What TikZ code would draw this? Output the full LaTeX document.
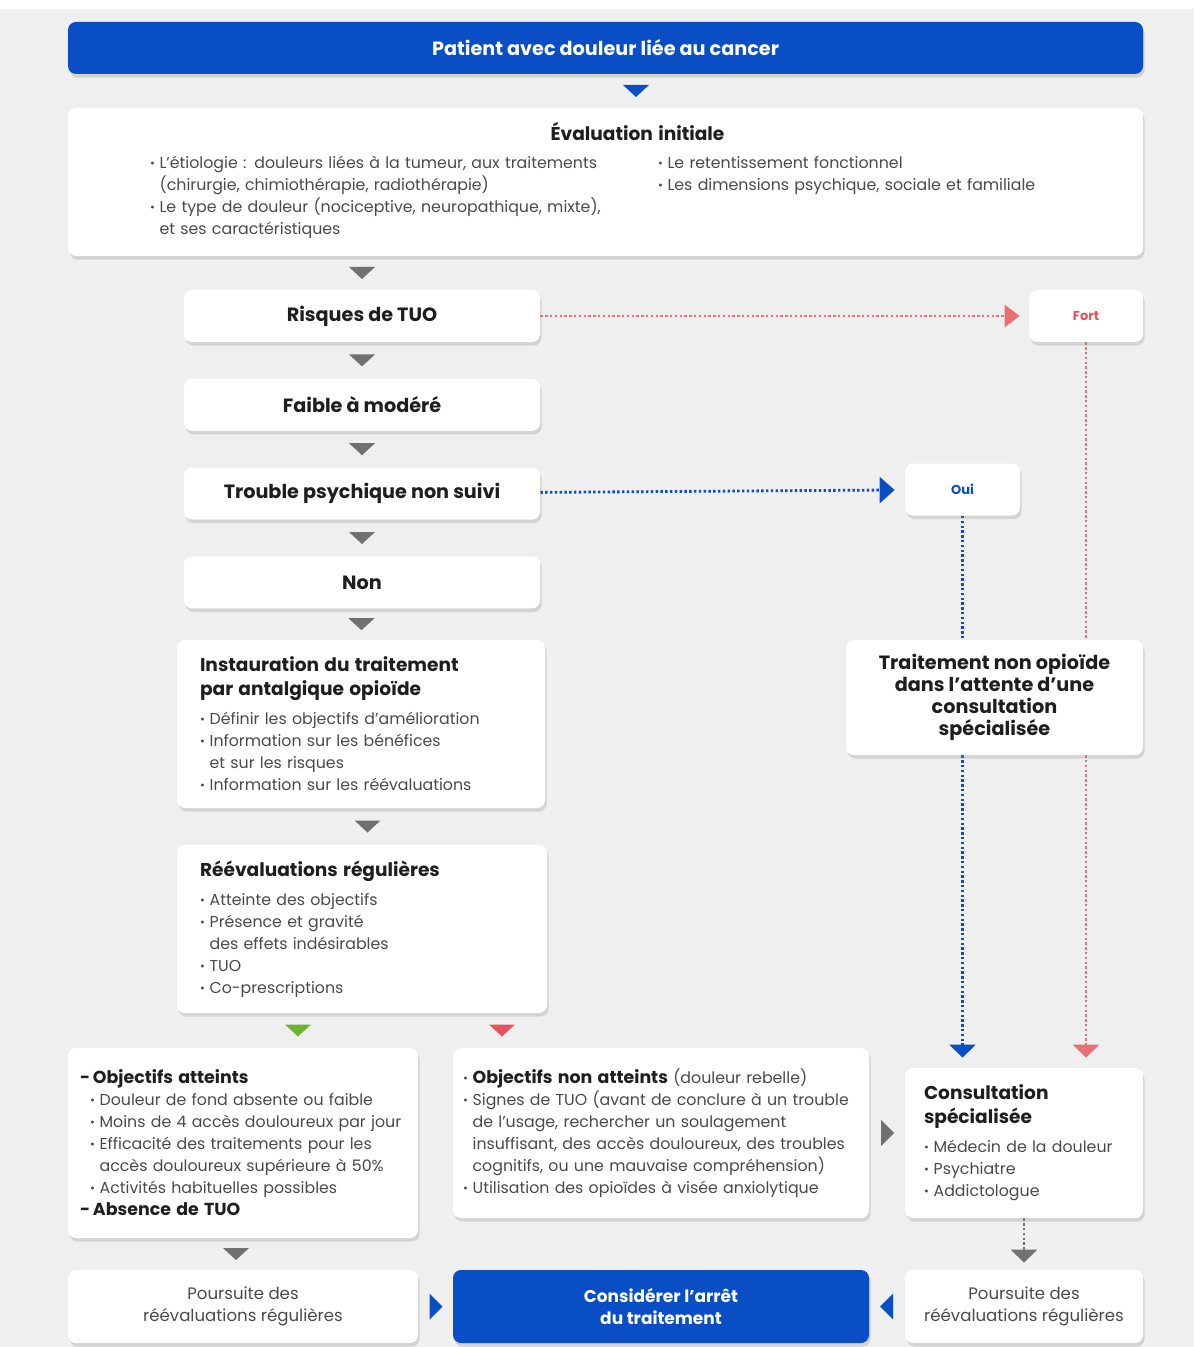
\documentclass[tikz,border=0pt]{standalone}
\usepackage{fontspec}
\setmainfont{Poppins}
\usepackage{graphicx}
\usepackage{tikz}
\usetikzlibrary{arrows.meta,positioning,calc,shadows,backgrounds}
\definecolor{bleu}{HTML}{0A4EC6}
\definecolor{fond}{HTML}{EFEFEF}
\definecolor{rouge}{HTML}{E5545E}
\definecolor{vert}{HTML}{6DB52F}
\definecolor{gris}{HTML}{707070}
\definecolor{texte}{HTML}{4A4A4A}
\definecolor{titre}{HTML}{1E1E1E}

\newcommand{\corps}{\fontsize{7.9}{11}\selectfont}
\newcommand{\titrefont}{\fontsize{9.6}{11}\selectfont\bfseries}
\newcommand{\petitfont}{\fontsize{6.5}{8}\selectfont\bfseries}
\newcommand{\arretfont}{\fontsize{8.5}{11}\selectfont\bfseries}
\newcommand{\pourfont}{\fontsize{8.3}{11}\selectfont}
\newcommand{\gras}[1]{{\fontsize{9.3}{11}\selectfont\bfseries\color{titre}#1}}
\newcommand{\sousgras}[1]{{\fontsize{8.7}{11}\selectfont\bfseries\color{titre}#1}}
\newcommand{\puce}{\raisebox{0.12ex}{\scalebox{0.75}{\textbullet}}\hspace{0.3em}}
\newcommand{\suite}{\phantom{\puce}}

\tikzset{
  pics/versbas/.style={code={\fill[#1] (-13,-6) -- (13,-6) -- (0,6) -- cycle;}},
  pics/versdroite/.style={code={\fill[#1] (-6,-13) -- (-6,13) -- (7,0) -- cycle;}},
  pics/versgauche/.style={code={\fill[#1] (6,-13) -- (6,13) -- (-7,0) -- cycle;}},
}

\begin{document}
\begin{tikzpicture}[x=0.5pt, y=-0.5pt,
  boite/.style={fill=white, rounded corners=4pt, inner ysep=0pt,
    drop shadow={shadow xshift=0.8pt, shadow yshift=-1.8pt, opacity=0.25},
    text=texte, font=\corps},
  etape/.style={boite, minimum width=178pt, minimum height=26pt, font=\titrefont, text=titre},
  bloc/.style={boite, align=left},
  bleue/.style={boite, fill=bleu, text=white},
  pointbleu/.style={draw=bleu, line width=1.4pt, dash pattern=on 1.2pt off 1.2pt},
  pointrouge/.style={draw=rouge!85, line width=1.4pt, dash pattern=on 1.2pt off 1.2pt},
  pointgris/.style={draw=gris, line width=1.4pt, dash pattern=on 1.2pt off 1.2pt},
  pointe/.style={-{Triangle[length=6.5pt, width=13pt]}}
]
\useasboundingbox (0,0) rectangle (1194,1347);

% colonne principale
\node[bleue, minimum width=537.5pt, minimum height=26pt, font=\titrefont] (patient) at (605.5,48) {Patient avec douleur liée au cancer};
\node[bloc, minimum width=537.5pt, minimum height=74pt, text width=455.5pt] (eval) at (605.5,182) {%
\makebox[455.5pt][c]{\hspace*{32pt}\gras{Évaluation initiale}}\\[3pt]
\begin{tabular}[t]{@{}p{254pt}@{}l@{}}
\puce L’étiologie : douleurs liées à la tumeur, aux traitements & \puce Le retentissement fonctionnel\\
\suite (chirurgie, chimiothérapie, radiothérapie) & \puce Les dimensions psychique, sociale et familiale\\
\puce Le type de douleur (nociceptive, neuropathique, mixte), & \\
\suite et ses caractéristiques &
\end{tabular}};
\node[etape] (risque) at (362,316) {Risques de TUO};
\node[etape, below=18pt of risque] (faible) {Faible à modéré};
\node[etape, below=18pt of faible] (trouble) {Trouble psychique non suivi};
\node[etape, below=18pt of trouble] (non) {Non};
\node[bloc, minimum width=184pt, minimum height=84pt, text width=161pt] (instaur) at (361,724) {%
\gras{Instauration du traitement}\\[1pt]
\gras{par antalgique opioïde}\\[3.5pt]
\puce Définir les objectifs d’amélioration\\
\puce Information sur les bénéfices\\
\suite et sur les risques\\
\puce Information sur les réévaluations};
\node[bloc, minimum width=185pt, minimum height=84pt, text width=162pt] (reeval) at (362,929) {%
\gras{Réévaluations régulières}\\[3.5pt]
\puce Atteinte des objectifs\\
\puce Présence et gravité\\
\suite des effets indésirables\\
\puce TUO\\
\puce Co-prescriptions};

% issues
\node[bloc, minimum width=175pt, minimum height=95pt, text width=163pt] (atteint) at (243,1143) {%
\sousgras{-\,Objectifs atteints}\\
\hspace*{5pt}\puce Douleur de fond absente ou faible\\
\hspace*{5pt}\puce Moins de 4 accès douloureux par jour\\
\hspace*{5pt}\puce Efficacité des traitements pour les\\
\hspace*{5pt}\suite accès douloureux supérieure à 50\%\\
\hspace*{5pt}\puce Activités habituelles possibles\\
\sousgras{-\,Absence de TUO}};
\node[bloc, minimum width=208pt, minimum height=85pt, text width=198pt] (nonatteint) at (661,1133) {%
\puce\sousgras{Objectifs non atteints} (douleur rebelle)\\
\puce Signes de TUO (avant de conclure à un trouble\\
\suite de l’usage, rechercher un soulagement\\
\suite insuffisant, des accès douloureux, des troubles\\
\suite cognitifs, ou une mauvaise compréhension)\\
\puce Utilisation des opioïdes à visée anxiolytique};
\node[bloc, minimum width=119pt, minimum height=75pt, text width=100pt] (consult) at (1024,1143) {%
\gras{Consultation}\\[1pt]
\gras{spécialisée}\\[3.5pt]
\puce Médecin de la douleur\\
\puce Psychiatre\\
\puce Addictologue};

% branche droite
\node[etape, minimum width=57pt, font=\petitfont, text=rouge] (fort) at (1086,316) {Fort};
\node[etape, minimum width=57.5pt, font=\petitfont, text=bleu] (oui) at (962.5,489.5) {Oui};
\node[boite, minimum width=148.5pt, minimum height=57.5pt, align=center, font=\titrefont, text=titre] (attente) at (994.5,697.5) {Traitement non opioïde\\dans l’attente d’une\\consultation\\spécialisée};

% bas
\node[boite, minimum width=175pt, minimum height=36.5pt, align=center, font=\pourfont] (poursuiteG) at (243,1306.5) {Poursuite des\\réévaluations régulières};
\node[bleue, minimum width=208pt, minimum height=36.5pt, align=center, font=\arretfont] (arret) at (661,1306.5) {Considérer l’arrêt\\du traitement};
\node[boite, minimum width=119pt, minimum height=36.5pt, align=center, font=\pourfont] (poursuiteD) at (1024,1306.5) {Poursuite des\\réévaluations régulières};

% triangles
\pic at ($(patient.south)!.5!(patient.south |- eval.north)+(30.5,0)$) {versbas=bleu};
\pic at ($(risque.north)!.5!(risque.north |- eval.south)$) {versbas=gris};
\pic at ($(risque.south)!.5!(faible.north)$) {versbas=gris};
\pic at ($(faible.south)!.5!(trouble.north)$) {versbas=gris};
\pic at ($(trouble.south)!.5!(non.north)$) {versbas=gris};
\pic at ($(non.south)!.5!(instaur.north)$) {versbas=gris};
\pic at ($(instaur.south)!.5!(reeval.north)+(6,0)$) {versbas=gris};
\pic at ($(reeval.south)!.5!(reeval.south |- atteint.north)+(-64,0)$) {versbas=vert};
\pic at ($(reeval.south)!.5!(reeval.south |- atteint.north)+(140,0)$) {versbas=rouge};
\pic at ($(atteint.south)!.5!(poursuiteG.north)+(-7,0)$) {versbas=gris};
\pic at ($(nonatteint.east)!.5!(consult.west |- nonatteint.east)$) {versdroite=gris};
\pic at ($(poursuiteG.east)!.5!(arret.west)$) {versdroite=bleu};
\pic at ($(poursuiteD.west)!.5!(arret.east)$) {versgauche=bleu};

% liaisons pointillees
\begin{scope}[on background layer]
\fill[fond] (0,0) rectangle (1194,1347);
\fill[white] (0,0) rectangle (1194,9);
\draw[pointrouge, -{Triangle[length=7.5pt, width=11pt]}, shorten >=4.5pt] (risque) -- (fort);
\draw[pointbleu, -{Triangle[length=7.5pt, width=13pt]}, shorten >=5pt] (trouble) -- (oui);
\draw[pointbleu] (oui) -- (oui |- attente.north);
\draw[pointbleu, pointe, shorten >=5pt] (oui |- attente.south) -- (oui |- consult.north);
\draw[pointrouge, pointe, shorten >=5pt] (fort) -- (fort |- consult.north);
\draw[pointgris, pointe, shorten >=3.5pt] (consult) -- (poursuiteD);
\end{scope}
\end{tikzpicture}
\end{document}
